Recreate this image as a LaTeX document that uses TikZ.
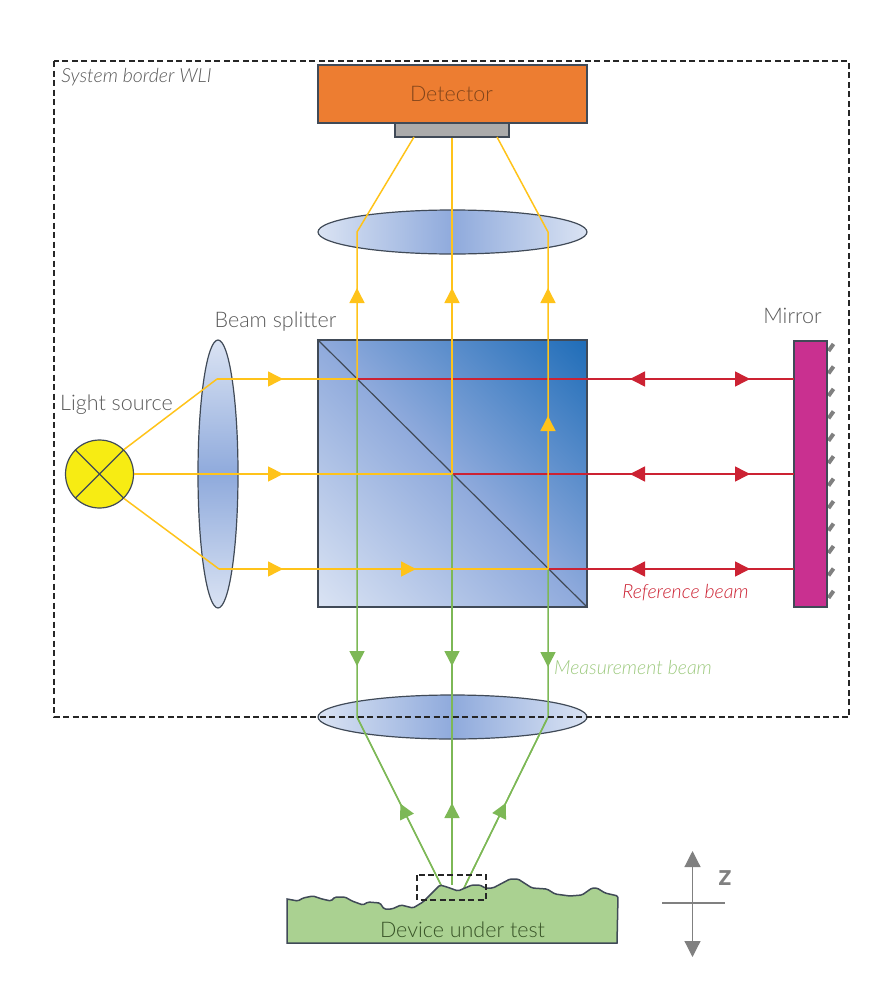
\documentclass[tikz,border=0pt]{standalone}
\usepackage{fontspec}
\setmainfont{Lato Light}
\newfontfamily\zfont{Lato Bold}
\usepackage{tikz}
\usetikzlibrary{arrows.meta}
\usetikzlibrary{shapes.geometric}
\usetikzlibrary{decorations.markings}
\definecolor{raysun}{HTML}{FFC31A}
\definecolor{rayred}{HTML}{CC2233}
\definecolor{raygreen}{HTML}{7DB856}
\definecolor{labelgray}{HTML}{595959}
\definecolor{edgegray}{HTML}{404A57}
\definecolor{lensmid}{HTML}{8FAADC}
\definecolor{lensrim}{HTML}{DAE3F3}
\definecolor{cubedark}{HTML}{1F6DB8}
\definecolor{detectorfill}{HTML}{ED7D31}
\definecolor{mirrorfill}{HTML}{C93090}
\definecolor{lampfill}{HTML}{F7EC13}
\pgfdeclareverticalshading{cubeshade}{100bp}{color(0bp)=(lensrim); color(14.6bp)=(lensrim); color(50bp)=(lensmid); color(85.4bp)=(cubedark); color(100bp)=(cubedark)}
\tikzstyle{tipat}=[postaction={decorate,decoration={markings,mark=at position #1 with {\arrow{Triangle[length=15pt,width=15pt]}}}}]
\tikzstyle{ybeam}=[raysun,line width=1.5pt]
\tikzstyle{rbeam}=[rayred,line width=1.5pt]
\tikzstyle{gbeam}=[raygreen,line width=1.5pt]
\tikzstyle{solid box}=[draw=edgegray,line width=1.2pt,inner sep=0pt]
\tikzstyle{hlens}=[ellipse,solid box,minimum width=269pt,minimum height=44pt,left color=lensrim,right color=lensrim,middle color=lensmid]
\tikzstyle{txt}=[text=labelgray,font=\fontsize{21.5}{24}\selectfont,inner sep=0pt]
\tikzstyle{itxt}=[font=\itshape\fontsize{19.5}{22}\selectfont,inner sep=0pt]
\tikzstyle{border}=[black!85,line width=1.1pt,dash pattern=on 6pt off 3.5pt]
\begin{document}
\begin{tikzpicture}
        [x=1pt,y=-1pt]
            \useasboundingbox (0,0) rectangle (883,996);
            % optics
            \node [solid box,fill=detectorfill,minimum width=269pt,minimum height=58pt] (detector) at (452.5,94) {};
            \node [solid box,fill=black!33,minimum width=114pt,minimum height=14pt] (sensor) at (452,130) {};
            \node [hlens] (upperlens) at (452.5,232) {};
            \node [hlens] (lowerlens) at (452.5,717) {};
            \node [ellipse,solid box,minimum width=40pt,minimum height=268pt,top color=lensrim,bottom color=lensrim,middle color=lensmid] (leftlens) at (218,474) {};
            \node [solid box,minimum width=269pt,minimum height=267pt,shade,shading=cubeshade,shading angle=-45] (cube) at (452.5,473.5) {};
            \foreach \i in {0,...,11} {
                \draw [black!50,line width=4pt] (828.5,{351+\i*22.45}) -- ++(5,-7);
            }
            \node [solid box,fill=mirrorfill,minimum width=33pt,minimum height=266pt] (mirror) at (810.5,474) {};
            \node [circle,solid box,fill=lampfill,minimum size=68pt] (lamp) at (99.5,474) {};
            \draw [edgegray,line width=1.2pt] (lamp.45) -- (lamp.225) (lamp.135) -- (lamp.315);
            \draw [edgegray,line width=1.2pt] (cube.north west) -- (cube.south east);
            % rays
            \coordinate (up1) at (357,379);
            \coordinate (up2) at (452,474);
            \coordinate (up3) at (548,569);
            \coordinate (len1) at (217,379);
            \coordinate (len3) at (219,569);
            \coordinate (top1) at (357,232);
            \coordinate (top3) at (548,232);
            \coordinate (bot1) at (357,717);
            \coordinate (bot3) at (548,717);
            \coordinate (sur1) at (441,885);
            \coordinate (sur2) at (452,885);
            \coordinate (sur3) at (463,890);
            \coordinate (sen1) at (414,137);
            \coordinate (sen3) at (497,137);
            \coordinate (mid1) at (690,379);
            \coordinate (mid2) at (690,474);
            \coordinate (mid3) at (690,569);
            \coordinate (mir1) at (794,379);
            \coordinate (mir2) at (794,474);
            \coordinate (mir3) at (794,569);
            \foreach \row in {1,2,3} {
                \draw [rbeam,tipat=60pt] (mid\row) -- (up\row);
                \draw [rbeam,tipat=60pt] (mid\row) -- (mir\row);
            }
            \draw [gbeam,tipat=287pt] (up1) -- (bot1) -- (sur1);
            \draw [gbeam,tipat=192pt] (up2) -- (sur2);
            \draw [gbeam,tipat=98pt] (up3) -- (bot3) -- (sur3);
            \draw [gbeam,tipat=91pt] (sur1) -- (bot1);
            \draw [gbeam,tipat=82pt] (sur2) -- (up2);
            \draw [gbeam,tipat=97pt] (sur3) -- (bot3);
            \draw [ybeam] (lamp.45) -- (len1);
            \draw [ybeam,tipat=66pt] (len1) -- (up1);
            \draw [ybeam,tipat=149pt] (lamp.east) -- (up2);
            \draw [ybeam] (lamp.315) -- (len3);
            \draw [ybeam,tipat=64pt,tipat=197pt] (len3) -- (up3);
            \draw [ybeam,tipat=91pt] (up1) -- (top1) -- (sen1);
            \draw [ybeam,tipat=186pt] (up2) -- (sensor.south -| up2);
            \draw [ybeam,tipat=153pt,tipat=281pt] (up3) -- (top3) -- (sen3);
            % surface
            \draw [edgegray,line width=1.5pt,rounded corners=1.5pt,fill=raygreen!65!white] (287,899) -- (298,901) -- (303,898) -- (313,896) -- (322,899) -- (331,901) -- (335,897) -- (345,897) -- (352,901) -- (363,905) -- (368,902) -- (380,903) -- (384,909) -- (392,909) -- (401,905) -- (413,908) -- (423,902) -- (440,885) -- (447,887) -- (458,891) -- (472,885) -- (480,885) -- (485,888) -- (493,888) -- (510,879) -- (518,879) -- (532,888) -- (547,889) -- (555,894) -- (570,896) -- (582,895) -- (592,888) -- (597,888) -- (605,893) -- (618,896) [sharp corners] -- (617,943) -- (287,943) -- cycle;
            \draw [border] (54,61) rectangle (849,717);
            \draw [border] (417,875) rectangle (486,900);
            % z axis
            \coordinate (ztop) at (692.5,851);
            \coordinate (zbot) at (692.5,957);
            \coordinate (zleft) at (662,903);
            \coordinate (zright) at (725,903);
            \draw [black!50,line width=1.2pt,{Triangle[length=16pt,width=16pt]}-{Triangle[length=16pt,width=16pt]}] (ztop) -- (zbot);
            \draw [black!50,line width=1.2pt] (zleft) -- (zright);
            % labels
            \node [txt,text=detectorfill!55!black] (detectorlabel) at (451.5,94) {Detector};
            \node [txt] (splitterlabel) at (275.5,322) {Beam splitter};
            \node [txt] (mirrorlabel) at (792.5,316) {Mirror};
            \node [txt] (lamplabel) at (116.5,405) {Light source};
            \node [txt,text=raygreen!45!black] (dutlabel) at (462.5,930) {Device under test};
            \node [txt,text=black!50,font=\zfont\fontsize{29}{29}\selectfont] (zlabel) at (725,878) {z};
            \node [itxt,text=labelgray] (borderlabel) at (136.5,77) {System border WLI};
            \node [itxt,text=rayred] (reflabel) at (685.5,593) {Reference beam};
            \node [itxt,text=raygreen!75] (measlabel) at (633,667) {Measurement beam};
        \end{tikzpicture}
\end{document}
